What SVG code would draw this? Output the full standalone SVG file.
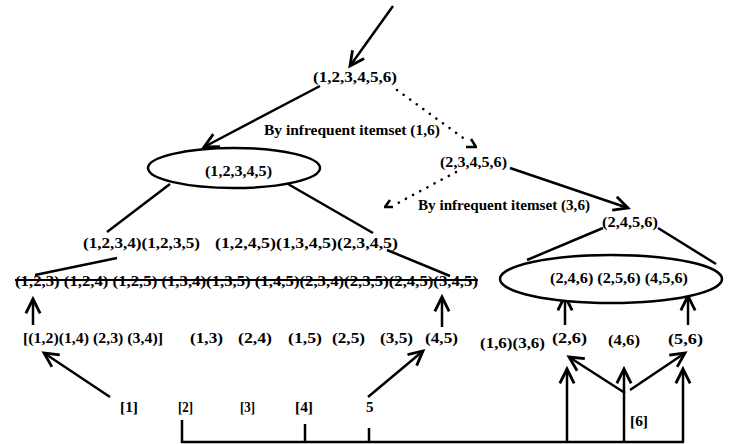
<svg xmlns="http://www.w3.org/2000/svg" width="737" height="444" viewBox="0 0 737 444">
<style>
text{font-family:"Liberation Serif","Times New Roman",serif;font-size:15px;font-weight:bold;fill:#000}
.ln{stroke:#000;stroke-width:2.5;fill:none}
.arr{stroke:#000;stroke-width:2.5;fill:none;marker-end:url(#ah)}
.dot{stroke:#000;stroke-width:2.6;fill:none;stroke-dasharray:0.1 8;stroke-linecap:round}
.el{stroke:#000;stroke-width:2.5;fill:#fff}
</style>
<defs>
<marker id="ah" markerUnits="userSpaceOnUse" viewBox="-16 -9 20 18" refX="0" refY="0" markerWidth="20" markerHeight="18" orient="auto">
<path d="M -13 -6.5 L 0 0 L -13 6.5" stroke="#000" stroke-width="2.8" fill="none" stroke-linecap="square"/>
</marker>
</defs>
<rect width="737" height="444" fill="#fff"/>
<g id="connectors">
<line class="arr" x1="393" y1="6" x2="350" y2="66"/>
<line class="arr" x1="320" y1="86" x2="204" y2="147"/>
<line class="dot" x1="397" y1="90" x2="466" y2="140"/>
<path class="ln" d="M 466 147 L 477 147 M 471 139 L 476 147" stroke-width="2.2"/>
<line class="arr" x1="510" y1="168" x2="628" y2="208"/>
<line class="dot" x1="456" y1="172" x2="398" y2="203"/>
<path class="ln" d="M 384 207 L 393 207 M 390 200 L 385 207" stroke-width="2.2"/>
<line class="ln" x1="170" y1="184" x2="107" y2="232"/>
<line class="ln" x1="288" y1="184" x2="373" y2="233"/>
<line class="ln" x1="117" y1="258" x2="35" y2="275"/>
<line class="ln" x1="387" y1="250" x2="450" y2="276"/>
<line class="ln" x1="603" y1="228" x2="527" y2="260"/>
<line class="ln" x1="658" y1="228" x2="716" y2="264"/>
<line class="arr" x1="33" y1="325" x2="33" y2="299"/>
<line class="arr" x1="110" y1="397" x2="44" y2="353"/>
<line class="arr" x1="368" y1="397" x2="423" y2="351"/>
<line class="arr" x1="442" y1="327" x2="442" y2="297"/>
<line class="arr" x1="565" y1="325" x2="565" y2="296"/>
<line class="arr" x1="688" y1="325" x2="688" y2="296"/>
<line class="arr" x1="567" y1="442" x2="567" y2="369"/>
<line class="arr" x1="624" y1="442" x2="624" y2="369"/>
<line class="arr" x1="683" y1="442" x2="683" y2="369"/>
<line class="arr" x1="625" y1="393" x2="569" y2="357"/>
<line class="arr" x1="630" y1="390" x2="685" y2="353"/>
<path class="ln" d="M 182 420 L 182 442 L 684 442 M 305 424 L 305 442 M 369 428 L 369 442"/>
</g>
<g id="n-root"><text x="313" y="82" textLength="84" lengthAdjust="spacingAndGlyphs">(1,2,3,4,5,6)</text></g>
<g id="lbl-16"><text x="264" y="135" textLength="176" lengthAdjust="spacingAndGlyphs">By infrequent itemset (1,6)</text></g>
<g id="n-12345"><ellipse class="el" cx="234" cy="168" rx="86" ry="20"/><text x="205" y="176" textLength="67" lengthAdjust="spacingAndGlyphs">(1,2,3,4,5)</text></g>
<g id="n-23456"><text x="440" y="167" textLength="67" lengthAdjust="spacingAndGlyphs">(2,3,4,5,6)</text></g>
<g id="lbl-36"><text x="418" y="210" textLength="172" lengthAdjust="spacingAndGlyphs">By infrequent itemset (3,6)</text></g>
<g id="n-2456"><text x="602" y="227" textLength="56" lengthAdjust="spacingAndGlyphs">(2,4,5,6)</text></g>
<g id="n-row2"><text x="83" y="248" textLength="117" lengthAdjust="spacingAndGlyphs">(1,2,3,4)(1,2,3,5)</text><text x="215" y="248" textLength="183" lengthAdjust="spacingAndGlyphs">(1,2,4,5)(1,3,4,5)(2,3,4,5)</text></g>
<g id="n-row3"><text x="15" y="286" textLength="463" lengthAdjust="spacingAndGlyphs">(1,2,3) (1,2,4) (1,2,5) (1,3,4)(1,3,5) (1,4,5)(2,3,4)(2,3,5)(2,4,5)(3,4,5)</text><line x1="15" y1="280" x2="478" y2="280" stroke="#000" stroke-width="1.8"/></g>
<g id="n-right-ellipse"><ellipse class="el" cx="611" cy="279" rx="111" ry="24"/><text x="550" y="283" textLength="138" lengthAdjust="spacingAndGlyphs">(2,4,6) (2,5,6) (4,5,6)</text></g>
<g id="n-row4">
<text x="23" y="343" textLength="140" lengthAdjust="spacingAndGlyphs">[(1,2)(1,4) (2,3) (3,4)]</text>
<text x="190" y="343" textLength="33" lengthAdjust="spacingAndGlyphs">(1,3)</text>
<text x="238" y="343" textLength="34" lengthAdjust="spacingAndGlyphs">(2,4)</text>
<text x="288" y="343" textLength="34" lengthAdjust="spacingAndGlyphs">(1,5)</text>
<text x="332" y="343" textLength="33" lengthAdjust="spacingAndGlyphs">(2,5)</text>
<text x="380" y="343" textLength="33" lengthAdjust="spacingAndGlyphs">(3,5)</text>
<text x="425" y="343" textLength="33" lengthAdjust="spacingAndGlyphs">(4,5)</text>
<text x="480" y="348" textLength="65" lengthAdjust="spacingAndGlyphs">(1,6)(3,6)</text>
<text x="552" y="343" textLength="35" lengthAdjust="spacingAndGlyphs">(2,6)</text>
<text x="608" y="345" textLength="32" lengthAdjust="spacingAndGlyphs">(4,6)</text>
<text x="668" y="344" textLength="35" lengthAdjust="spacingAndGlyphs">(5,6)</text>
</g>
<g id="n-bottom">
<text x="120" y="412" textLength="18" lengthAdjust="spacingAndGlyphs">[1]</text>
<text x="178" y="412" textLength="15" lengthAdjust="spacingAndGlyphs">[2]</text>
<text x="240" y="412" textLength="15" lengthAdjust="spacingAndGlyphs">[3]</text>
<text x="295" y="412" textLength="18" lengthAdjust="spacingAndGlyphs">[4]</text>
<text x="366" y="412">5</text>
<text x="630" y="426" textLength="18" lengthAdjust="spacingAndGlyphs">[6]</text>
</g>
</svg>
